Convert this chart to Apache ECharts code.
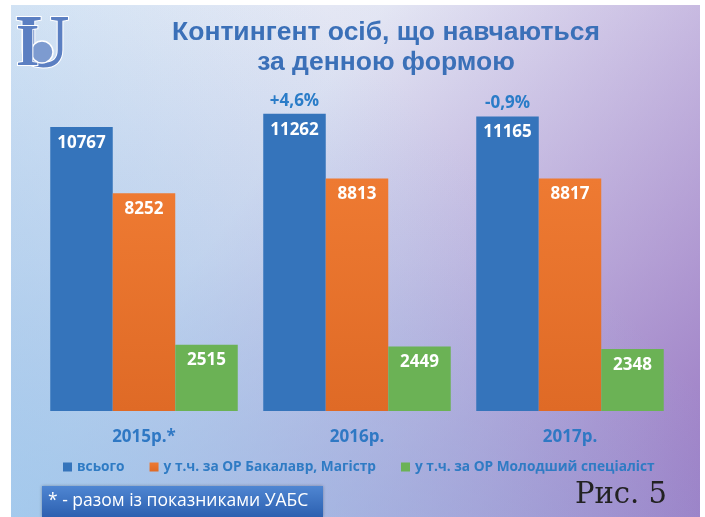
<!DOCTYPE html>
<html>
<head>
<meta charset="utf-8">
<script src="https://cdn.jsdelivr.net/npm/echarts@6/dist/echarts.min.js"></script>
<style>
  html, body { margin: 0; padding: 0; background: #fff; }
  #chart { width: 705px; height: 517px; }
</style>
</head>
<body>
<div id="chart"></div>
<script>
// роки
const years = ['2015р.*', '2016р.', '2017р.']
// контингент
const total = [10767, 11262, 11165]
const bachMaster = [8252, 8813, 8817]
const junior = [2515, 2449, 2348]
// зміна відносно попереднього року
const change = ['', '+4,6%', '-0,9%']
const seriesNames = ['всього', 'у т.ч. за ОР Бакалавр, Магістр', 'у т.ч. за ОР Молодший спеціаліст']

const chart = echarts.init(document.getElementById('chart'))

const valueLabel = {
  show: true,
  position: 'insideTop',
  distance: 6,
  color: '#fff',
  fontFamily: 'Open Sans',
  fontWeight: 'bold',
  fontSize: 17,
  lineHeight: 20
}

let totalData = total.map((v, i) => {
  let item = { value: v }
  if (change[i]) {
    item.label = {
      offset: [0, -38],
      formatter: '{p|' + change[i] + '}\n{v|' + v + '}'
    }
  }
  return item
})

let option = {
  backgroundColor: '#fff',
  animation: false,
  title: {
    text: 'Контингент осіб, що навчаються\nза денною формою',
    left: 381,
    top: 13,
    textAlign: 'center',
    textStyle: {
      fontFamily: 'Liberation Sans',
      fontWeight: 'bold',
      fontSize: 26.5,
      lineHeight: 30,
      color: '#3b70b8'
    }
  },
  legend: {
    data: seriesNames,
    left: 58,
    top: 455,
    icon: 'rect',
    itemWidth: 9,
    itemHeight: 9,
    itemGap: 25,
    textStyle: {
      fontFamily: 'Open Sans',
      fontWeight: 'bold',
      fontSize: 13.7,
      color: '#2f7bc4'
    }
  },
  grid: {
    left: 37.5,
    right: 28.5,
    top: 94.4,
    bottom: 106
  },
  xAxis: {
    type: 'category',
    data: years,
    axisLine: { show: false },
    axisTick: { show: false },
    axisLabel: {
      margin: 15,
      fontFamily: 'Open Sans',
      fontWeight: 'bold',
      fontSize: 17,
      lineHeight: 23,
      color: '#2f78c4'
    }
  },
  yAxis: {
    type: 'value',
    min: 0,
    max: 12000,
    show: false,
    splitLine: { show: false }
  },
  graphic: [
    {
      type: 'rect',
      z: -10,
      shape: { x: 11, y: 5, width: 689, height: 512 },
      style: {
        fill: new echarts.graphic.LinearGradient(0, 0, 0, 1, [
          { offset: 0, color: '#e7ecf6' },
          { offset: 0.5, color: '#d6dbee' },
          { offset: 1, color: '#b7bfe0' }
        ])
      }
    },
    {
      type: 'rect',
      z: -9,
      shape: { x: 11, y: 5, width: 689, height: 512 },
      style: {
        fill: new echarts.graphic.LinearGradient(0, 0, 1, 1, [
          { offset: 0, color: 'rgba(160,120,200,0)' },
          { offset: 0.35, color: 'rgba(160,120,200,0.05)' },
          { offset: 1, color: 'rgba(150,110,190,0.85)' }
        ])
      }
    },
    {
      type: 'rect',
      z: -8,
      shape: { x: 11, y: 5, width: 689, height: 512 },
      style: {
        fill: new echarts.graphic.LinearGradient(0, 1, 0.6, 0.2, [
          { offset: 0, color: 'rgba(160,205,240,0.8)' },
          { offset: 1, color: 'rgba(160,205,240,0)' }
        ])
      }
    },
    // логотип
    {
      type: 'text',
      z: 10,
      left: 14,
      top: 8,
      style: {
        text: 'U',
        fill: '#5b7fc2',
        stroke: '#fff',
        lineWidth: 2,
        font: 'bold 76px "Liberation Serif"'
      }
    },
    {
      type: 'circle',
      z: 11,
      shape: { cx: 42, cy: 52, r: 11 },
      style: { fill: '#7d9bd0', stroke: '#fff', lineWidth: 1.5 }
    },
    {
      type: 'text',
      z: 12,
      left: 15,
      top: 18,
      style: {
        text: 'I',
        fill: '#5b7fc2',
        stroke: '#fff',
        lineWidth: 2,
        font: 'bold 60px "Liberation Serif"'
      }
    },
    // примітка
    {
      type: 'rect',
      z: 10,
      shape: { x: 42, y: 486, width: 281, height: 31 },
      style: {
        fill: new echarts.graphic.LinearGradient(0, 0, 0, 1, [
          { offset: 0, color: '#4f86d2' },
          { offset: 1, color: '#2c60b0' }
        ]),
        shadowBlur: 3,
        shadowColor: 'rgba(0,0,0,0.3)'
      }
    },
    {
      type: 'text',
      z: 11,
      left: 48,
      top: 492,
      style: {
        text: '* - разом із показниками УАБС',
        fill: '#fff',
        font: '17.5px "Open Sans"'
      }
    },
    {
      type: 'text',
      z: 11,
      left: 575,
      top: 481,
      style: {
        text: 'Рис. 5',
        fill: '#222',
        font: '29px "DejaVu Serif"'
      }
    }
  ],
  series: [
    {
      name: seriesNames[0],
      type: 'bar',
      barWidth: 62.5,
      barGap: '0%',
      data: totalData,
      itemStyle: { color: '#3574bb' },
      label: Object.assign({}, valueLabel, {
        rich: {
          p: { color: '#2a7cc8', fontFamily: 'Open Sans', fontWeight: 700, fontSize: 17, lineHeight: 38 },
          v: { color: '#fff', fontFamily: 'Open Sans', fontWeight: 700, fontSize: 17, lineHeight: 20 }
        }
      })
    },
    {
      name: seriesNames[1],
      type: 'bar',
      barWidth: 62.5,
      barGap: '0%',
      data: bachMaster,
      itemStyle: {
        color: new echarts.graphic.LinearGradient(0, 0, 0, 1, [
          { offset: 0, color: '#ee7a32' },
          { offset: 1, color: '#df6a26' }
        ])
      },
      label: valueLabel
    },
    {
      name: seriesNames[2],
      type: 'bar',
      barWidth: 62.5,
      barGap: '0%',
      data: junior,
      itemStyle: { color: '#6bb255' },
      label: valueLabel
    }
  ]
}

chart.setOption(option)
</script>
</body>
</html>
